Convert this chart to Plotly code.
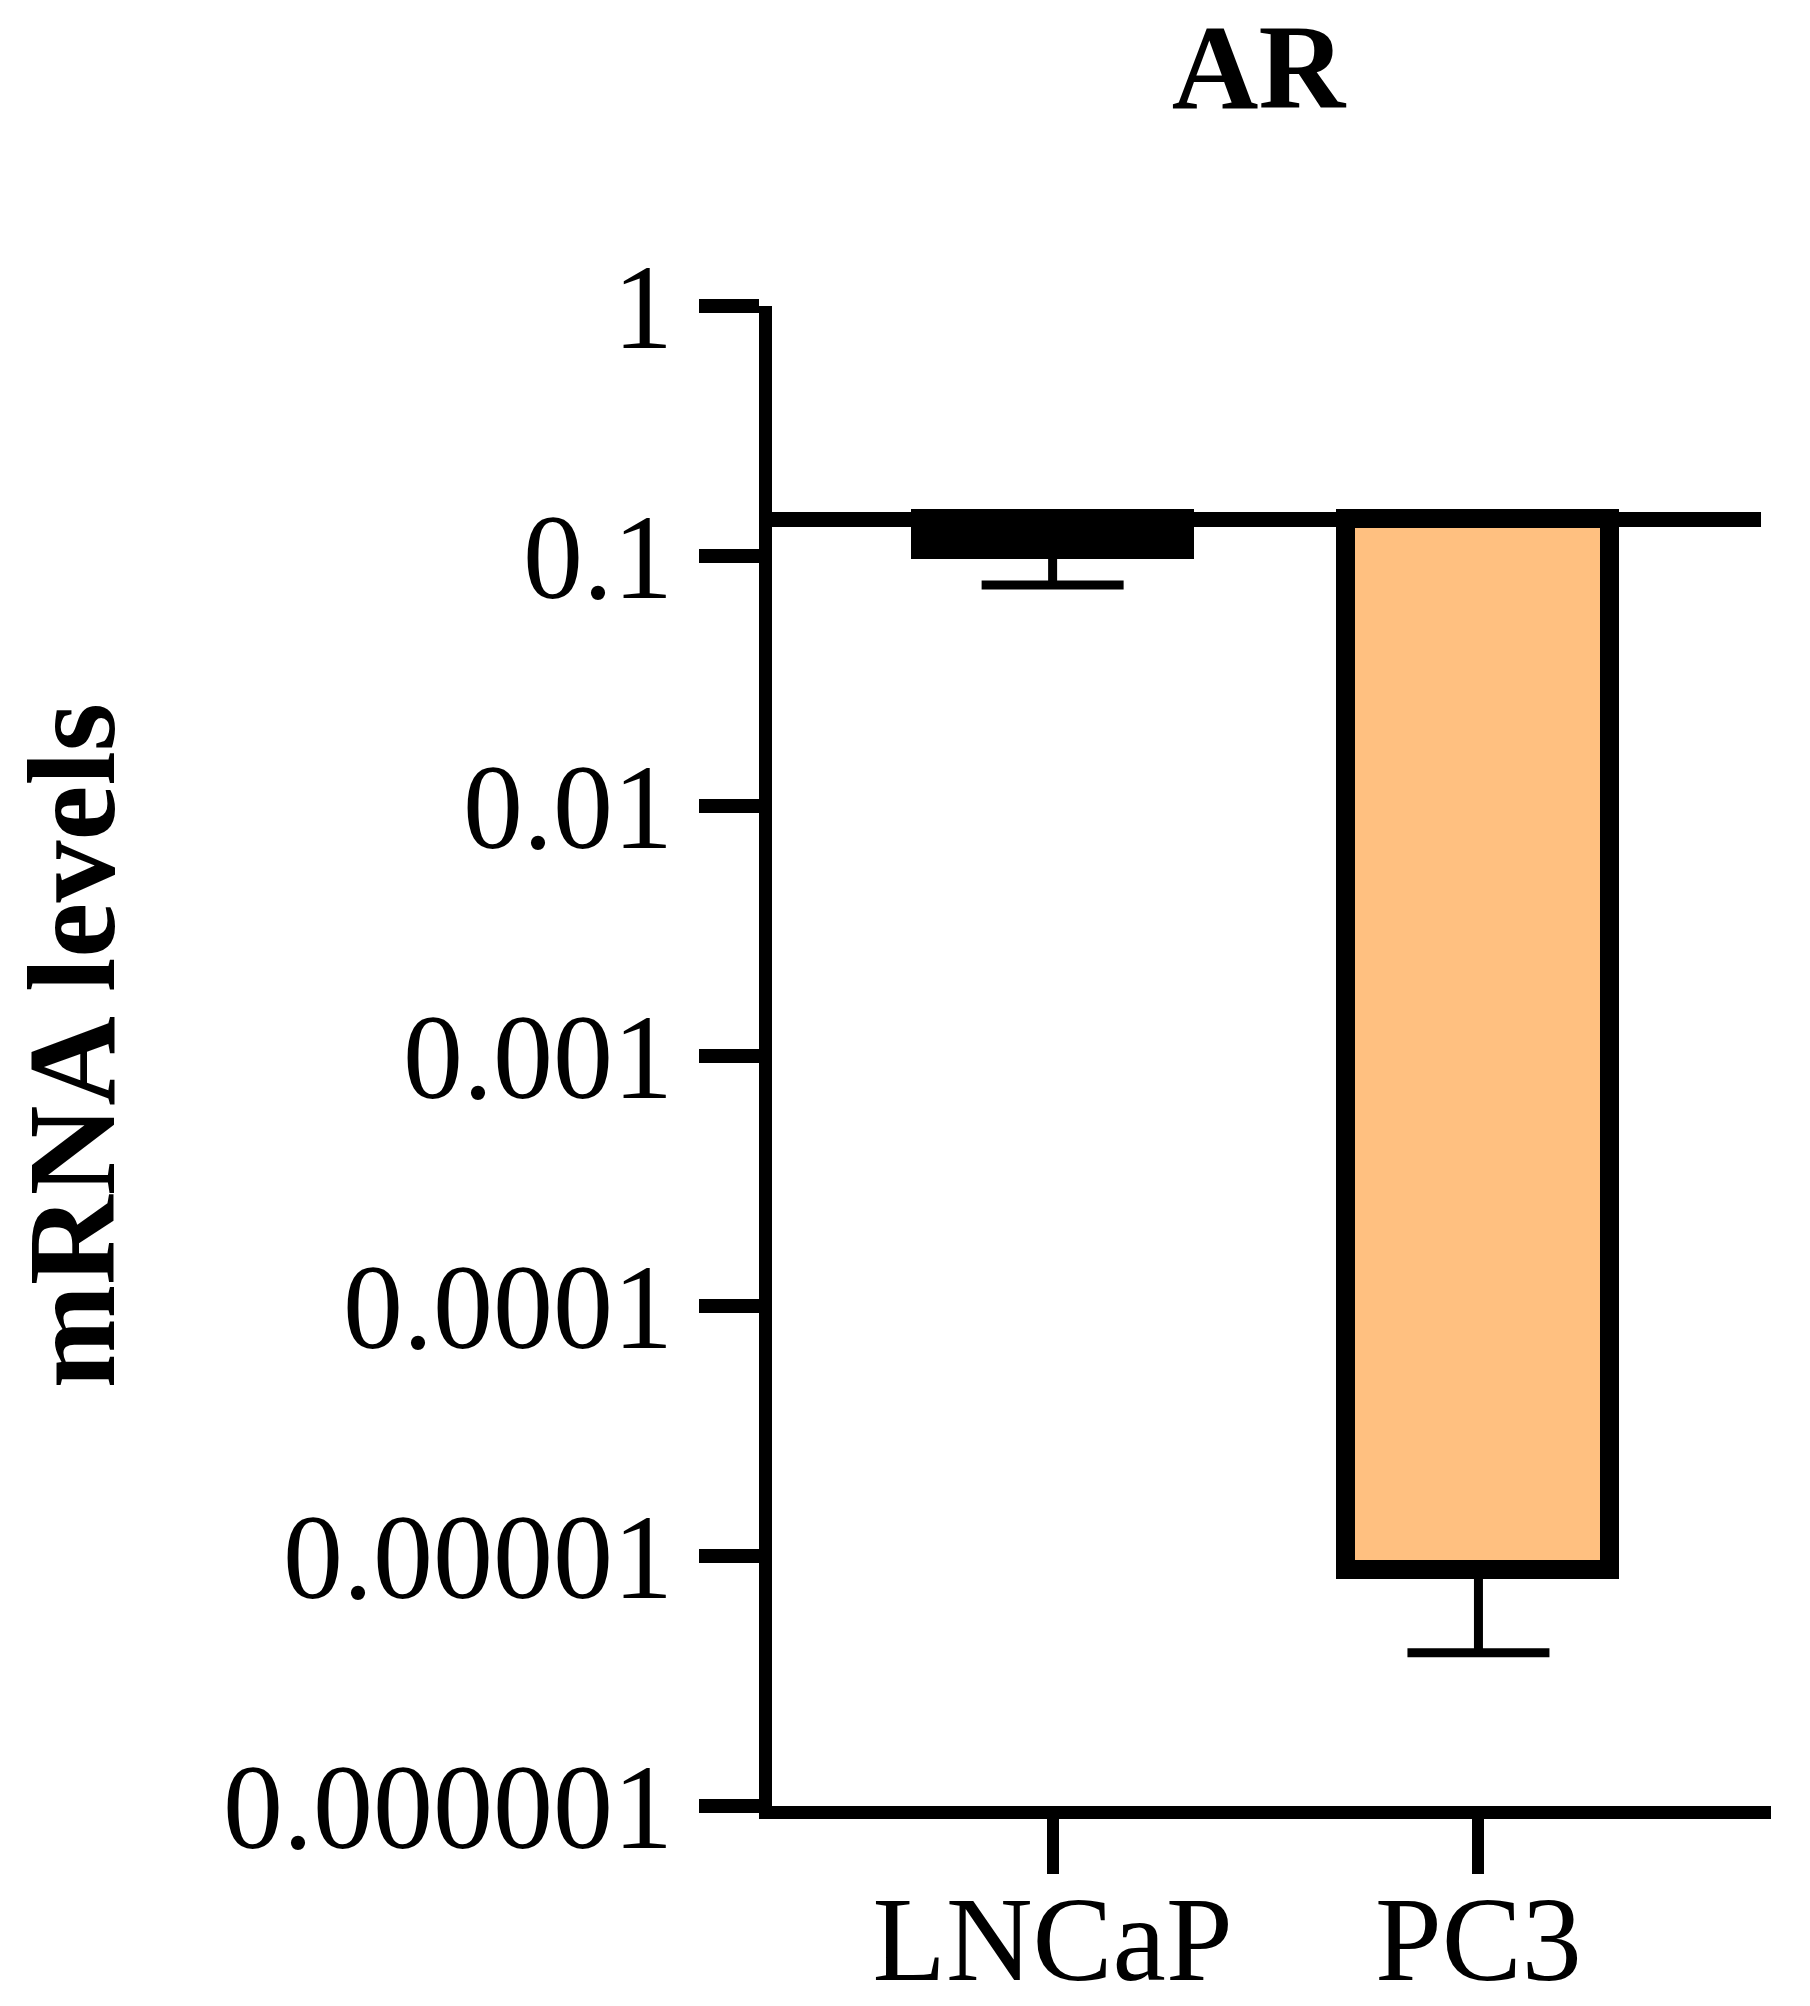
import plotly.graph_objects as go

_TEXT = "#000000"
_PC3 = "#FFC080"
_FONT = "Liberation Serif, Times New Roman, serif"

# data
categories = ["LNCaP", "PC3"]
mrna_levels = [0.106, 8.8e-6]
err_minus = [0.0294, 4.7e-6]
bar_colors = ["#000000", _PC3]
baseline = 0.14  # bars hang from this level

tick_vals = [1, 0.1, 0.01, 0.001, 0.0001, 0.00001, 0.000001]
tick_text = ["1", "0.1", "0.01", "0.001", "0.0001", "0.00001", "0.000001"]

# page body adds an 8px margin, so the figure is 16px smaller than the window
W, H = 1794, 1990

fig = go.Figure()
fig.add_trace(go.Bar(
    x=categories,
    y=[v - baseline for v in mrna_levels],
    base=[baseline] * len(categories),
    width=0.62,
    marker=dict(color=bar_colors, line=dict(color=_TEXT, width=19)),
    error_y=dict(
        type="data",
        symmetric=False,
        array=[0] * len(categories),
        arrayminus=err_minus,
        color=_TEXT,
        thickness=9,
        width=71,
    ),
    showlegend=False,
))

fig.add_shape(
    type="line",
    xref="x domain", x0=0, x1=0.99,
    yref="y", y0=baseline, y1=baseline,
    line=dict(color=_TEXT, width=15),
)

fig.add_annotation(
    text="mRNA levels",
    xref="paper", yref="paper",
    x=-0.70, y=0.507,
    xanchor="center", yanchor="middle",
    textangle=-90,
    showarrow=False,
    font=dict(family=_FONT, size=124, color=_TEXT, weight="bold"),
)

fig.update_layout(
    width=W, height=H,
    paper_bgcolor="#FFFFFF", plot_bgcolor="#FFFFFF",
    font=dict(family=_FONT, color=_TEXT),
    title=dict(
        text="AR",
        x=0.697, xanchor="center",
        y=1 - 58 / H, yanchor="middle",
        font=dict(family=_FONT, size=120, color=_TEXT, weight="bold"),
    ),
    margin=dict(l=764, r=31, t=298, b=192),
    bargap=0,
    xaxis=dict(
        range=[-0.659, 1.687],
        automargin=False,
        showgrid=False, zeroline=False,
        showline=True, linecolor=_TEXT, linewidth=13,
        ticks="outside", ticklen=55, tickwidth=12, tickcolor=_TEXT,
        tickfont=dict(family=_FONT, size=120, color=_TEXT),
        ticklabelstandoff=-38,
    ),
    yaxis=dict(
        type="log",
        range=[-6, 0],
        automargin=False,
        tickvals=tick_vals, ticktext=tick_text,
        showgrid=False, zeroline=False,
        showline=True, linecolor=_TEXT, linewidth=13,
        ticks="outside", ticklen=60, tickwidth=14, tickcolor=_TEXT,
        tickfont=dict(family=_FONT, size=120, color=_TEXT),
        ticklabelstandoff=2,
    ),
)

fig.write_html("out.html")
